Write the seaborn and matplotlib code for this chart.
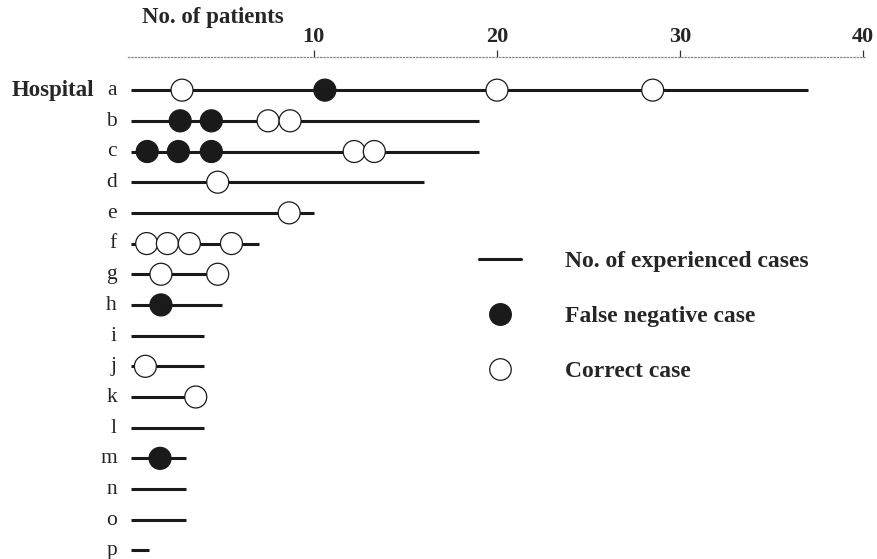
import pandas as pd
import seaborn as sns
import matplotlib.pyplot as plt
from matplotlib.lines import Line2D
from matplotlib.transforms import ScaledTranslation

# Data
hospitals = list('abcdefghijklmnop')
experienced_cases = [37, 19, 19, 16, 10, 7, 5, 5, 4, 4, 4, 4, 3, 3, 3, 1]

false_negative_hospital = ['a', 'b', 'b', 'c', 'c', 'c', 'h', 'm']
false_negative_position = [10.6, 2.7, 4.4, 0.9, 2.6, 4.4, 1.65, 1.6]

correct_hospital = ['a', 'a', 'a', 'b', 'b', 'c', 'c', 'd', 'e',
                    'f', 'f', 'f', 'f', 'g', 'g', 'j', 'k']
correct_position = [2.8, 20.0, 28.5, 7.5, 8.7, 12.2, 13.3, 4.75, 8.65,
                    0.87, 2.0, 3.2, 5.5, 1.65, 4.75, 0.8, 3.55]

sns.set_style('white')
plt.rcParams['font.family'] = ['Liberation Serif', 'DejaVu Serif']

cases_df = pd.concat([
    pd.DataFrame({'Hospital': false_negative_hospital,
                  'Patients': false_negative_position,
                  'Case': 'False negative case'}),
    pd.DataFrame({'Hospital': correct_hospital,
                  'Patients': correct_position,
                  'Case': 'Correct case'}),
], ignore_index=True)
cases_df['Row'] = cases_df.Hospital.map({h: i for i, h in enumerate(hospitals)})

fig = plt.figure(figsize=(8.77, 5.59), dpi=100)
ax = fig.add_axes([128 / 877, 0, (866 - 128) / 877, 1 - 57 / 559])

line_color = '#1a1a1a'
ax.hlines(y=range(len(hospitals)), xmin=0, xmax=experienced_cases,
          color=line_color, linewidth=2.2, zorder=1)

sns.scatterplot(
    data=cases_df,
    x='Patients',
    y='Row',
    hue='Case',
    palette={'False negative case': line_color, 'Correct case': 'white'},
    edgecolor=line_color,
    linewidth=0.9,
    s=250,
    legend=False,
    zorder=3,
    ax=ax
)

ax.set_xlim(-0.15, 40.15)
ax.set_ylim(15.28, -1.08)

# top axis only, dotted
for side in ['left', 'right', 'bottom']:
    ax.spines[side].set_visible(False)
ax.spines['top'].set_linestyle(':')
ax.spines['top'].set_color('#888888')
ax.spines['top'].set_linewidth(0.9)
ax.xaxis.tick_top()
ax.set_xticks([10, 20, 30, 40])
ax.set_xticklabels(['10', '20', '30', '40'], fontsize=16, fontweight='bold')
ax.tick_params(axis='x', direction='out', length=5, width=0.9,
               color='#333333', pad=2)
ax.set_xlabel('')
ax.set_ylabel('')

ax.set_yticks(range(len(hospitals)))
ax.set_yticklabels(hospitals, fontsize=15.5)
ax.tick_params(axis='y', length=0, pad=8)
nudge = ScaledTranslation(0, 1.5 / 72, fig.dpi_scale_trans)
for label in ax.get_yticklabels():
    label.set_transform(label.get_transform() + nudge)

ax.text(-0.1016, 0, 'Hospital', transform=ax.get_yaxis_transform(),
        ha='center', va='center', fontsize=16.5, fontweight='bold')
fig.text(213 / 877, 1 - 18 / 559, 'No. of patients',
         ha='center', va='center', fontsize=16.5, fontweight='bold')

handles = [
    Line2D([], [], color=line_color, linewidth=2.2),
    Line2D([], [], marker='o', linestyle='', markersize=15.5,
           markerfacecolor=line_color, markeredgecolor=line_color),
    Line2D([], [], marker='o', linestyle='', markersize=15.5,
           markerfacecolor='white', markeredgecolor=line_color,
           markeredgewidth=0.9),
]
ax.legend(handles, ['No. of experienced cases', 'False negative case', 'Correct case'],
          loc='upper left', bbox_to_anchor=(0.4634, 0.633), frameon=False,
          prop={'family': 'Liberation Serif', 'weight': 'bold', 'size': 17},
          handlelength=1.78, handletextpad=1.86, labelspacing=1.41,
          borderaxespad=0)

plt.savefig('out.png', dpi=100)
plt.close()
